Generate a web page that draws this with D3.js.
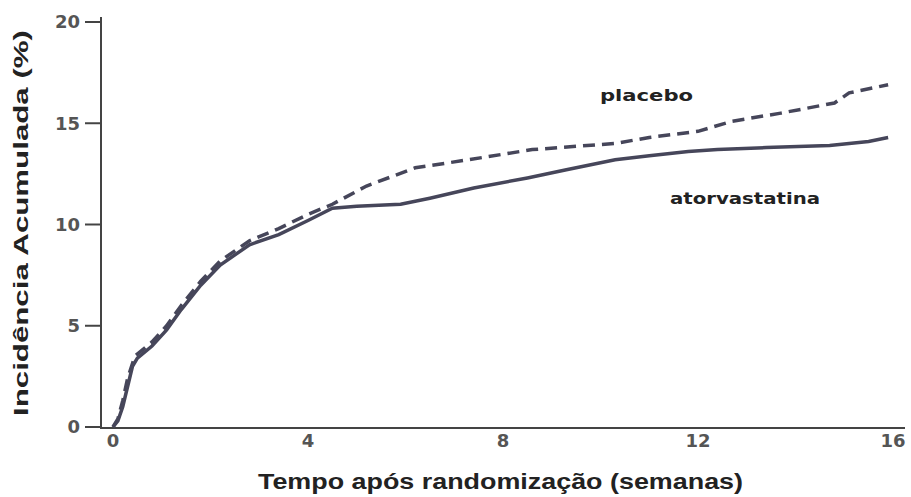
<!DOCTYPE html>
<html>
<head>
<meta charset="utf-8">
<script src="https://cdn.jsdelivr.net/npm/d3@7"></script>
<style>
  body { margin: 0; background: #fff; }
  svg text { font-weight: bold; }
</style>
</head>
<body>
<svg id="chart" width="911" height="497"></svg>
<script>
// weeks and cumulative incidence (%)
const atorWeeks = [0, 0.1, 0.2, 0.3, 0.4, 0.5, 0.8, 1.1, 1.4, 1.8, 2.2, 2.8, 3.4, 4.0, 4.5, 5.0, 5.9, 6.5, 7.4, 8.5, 9.3, 10.3, 11.0, 11.8, 12.4, 13.4, 14.7, 15.5, 15.9];
const atorValues = [0, 0.3, 1.0, 2.0, 3.0, 3.4, 4.0, 4.8, 5.8, 7.0, 8.0, 9.0, 9.5, 10.2, 10.8, 10.9, 11.0, 11.3, 11.8, 12.3, 12.7, 13.2, 13.4, 13.6, 13.7, 13.8, 13.9, 14.1, 14.3];
const placWeeks = [0, 0.1, 0.2, 0.3, 0.45, 0.8, 1.1, 1.4, 1.8, 2.2, 2.8, 3.4, 4.0, 4.5, 5.2, 6.2, 7.3, 8.6, 10.3, 11.0, 12.0, 12.7, 13.7, 14.8, 15.1, 15.9];
const placValues = [0, 0.4, 1.3, 2.4, 3.5, 4.2, 5.0, 6.0, 7.2, 8.2, 9.2, 9.8, 10.5, 11.0, 11.9, 12.8, 13.2, 13.7, 14.0, 14.3, 14.6, 15.1, 15.5, 16.0, 16.5, 16.9];
const xTicks = [0, 4, 8, 12, 16];
const yTicks = [0, 5, 10, 15, 20];

const svg = d3.select("#chart");
const lineColor = "#46465a";
const axisColor = "#444";
const sansFont = "Liberation Sans, Arial, sans-serif";
const tickFont = "DejaVu Sans, sans-serif";

const x = d3.scaleLinear().domain([0, 16]).range([113, 893]);
const y = d3.scaleLinear().domain([0, 20]).range([427, 22]);

// y axis
svg.append("line")
  .attr("x1", 101).attr("x2", 101)
  .attr("y1", 17).attr("y2", 429)
  .attr("stroke", axisColor).attr("stroke-width", 2);

svg.append("g").selectAll("line")
  .data(yTicks)
  .join("line")
  .attr("x1", 85).attr("x2", 101)
  .attr("y1", (d) => y(d)).attr("y2", (d) => y(d))
  .attr("stroke", axisColor).attr("stroke-width", 2);

svg.append("g").selectAll("text")
  .data(yTicks)
  .join("text")
  .attr("x", 80)
  .attr("y", (d) => y(d))
  .attr("dy", "0.36em")
  .attr("text-anchor", "end")
  .attr("font-family", tickFont)
  .attr("font-size", 18)
  .attr("fill", "#555")
  .text((d) => d);

// x axis
svg.append("line")
  .attr("x1", 100).attr("x2", 905)
  .attr("y1", 428).attr("y2", 428)
  .attr("stroke", axisColor).attr("stroke-width", 2);

svg.append("g").selectAll("text")
  .data(xTicks)
  .join("text")
  .attr("x", (d) => x(d))
  .attr("y", 447)
  .attr("text-anchor", "middle")
  .attr("font-family", tickFont)
  .attr("font-size", 18)
  .attr("fill", "#555")
  .text((d) => d);

// axis titles
svg.append("text")
  .attr("x", 258).attr("y", 489)
  .attr("font-family", sansFont)
  .attr("font-size", 22)
  .attr("fill", "#222")
  .attr("textLength", 485)
  .attr("lengthAdjust", "spacingAndGlyphs")
  .text("Tempo após randomização (semanas)");

svg.append("text")
  .attr("transform", "translate(28,416) rotate(-90)")
  .attr("font-family", sansFont)
  .attr("font-size", 21)
  .attr("fill", "#222")
  .attr("textLength", 386)
  .attr("lengthAdjust", "spacingAndGlyphs")
  .text("Incidência Acumulada (%)");

// curves
const curveLine = d3.line()
  .x((d) => x(d[0]))
  .y((d) => y(d[1]));

svg.append("path")
  .attr("d", curveLine(d3.zip(placWeeks, placValues)))
  .attr("fill", "none")
  .attr("stroke", lineColor)
  .attr("stroke-width", 3.5)
  .attr("stroke-dasharray", "12,7");

svg.append("path")
  .attr("d", curveLine(d3.zip(atorWeeks, atorValues)))
  .attr("fill", "none")
  .attr("stroke", lineColor)
  .attr("stroke-width", 3.5);

// labels
svg.append("text")
  .attr("x", 600).attr("y", 101)
  .attr("font-family", tickFont)
  .attr("font-size", 16)
  .attr("fill", "#222")
  .attr("textLength", 93)
  .attr("lengthAdjust", "spacingAndGlyphs")
  .text("placebo");

svg.append("text")
  .attr("x", 670).attr("y", 204)
  .attr("font-family", tickFont)
  .attr("font-size", 16)
  .attr("fill", "#222")
  .attr("textLength", 150)
  .attr("lengthAdjust", "spacingAndGlyphs")
  .text("atorvastatina");
</script>
</body>
</html>
